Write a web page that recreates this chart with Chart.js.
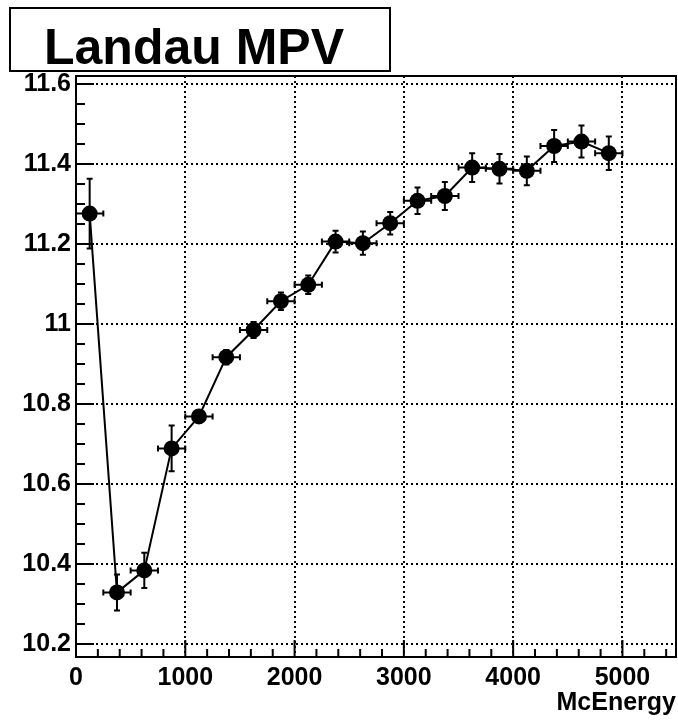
<!DOCTYPE html>
<html>
<head>
<meta charset="UTF-8">
<title>Landau MPV</title>
<script src="https://cdn.jsdelivr.net/npm/chart.js"></script>
<style>
    body{
        margin:0;
        padding:0;
        background:#fff;
        font-family:"Liberation Sans",Arial,Helvetica,sans-serif;
    }
    .wrap{
        position:relative;
        width:678px;
        height:721px;
    }
    canvas{ position:absolute; left:0; top:0; }
    /* title box in the upper left */
    .title-box{
        position:absolute;
        left:9px;
        top:7px;
        width:345px;
        height:48px;
        padding:13px 0 0 33px;
        border:2px solid #000;
        background:#fff;
        font-weight:700;
        font-size:50px;
        line-height:50px;
        white-space:nowrap;
    }
</style>
</head>
<body>
<div class="wrap">
    <canvas id="mpvChart" width="678" height="721"></canvas>
    <div class="title-box">Landau MPV</div>
</div>

<script>
// bin centres and half widths (McEnergy)
const energy    = [125, 375, 625, 875, 1125, 1375, 1625, 1875, 2125, 2375,
                   2625, 2875, 3125, 3375, 3625, 3875, 4125, 4375, 4625, 4875];
const energyErr = [125, 125, 125, 125, 125, 125, 125, 125, 125, 125,
                   125, 125, 125, 125, 125, 125, 125, 125, 125, 125];
// fitted Landau most probable value per bin
const mpv    = [11.276, 10.329, 10.384, 10.689, 10.769, 10.917, 10.985, 11.057, 11.098, 11.206,
                11.202, 11.252, 11.308, 11.320, 11.391, 11.388, 11.383, 11.445, 11.456, 11.427];
const mpvErr = [0.087, 0.045, 0.044, 0.057, 0.016, 0.018, 0.020, 0.022, 0.023, 0.027,
                0.029, 0.028, 0.033, 0.035, 0.036, 0.037, 0.036, 0.040, 0.040, 0.042];

const xTickValues = [0, 1000, 2000, 3000, 4000, 5000];
const yTickValues = [10.2, 10.4, 10.6, 10.8, 11, 11.2, 11.4, 11.6];

const FONT = '"Liberation Sans", Arial, Helvetica, sans-serif';

// error bars with small end caps
const errorBars = {
    id: 'errorBars',
    afterDatasetsDraw(chart){
        const {ctx, scales:{x, y}} = chart;
        const cap = 3;
        ctx.save();
        ctx.strokeStyle = '#000';
        ctx.lineWidth = 2;
        energy.forEach((e, i) => {
            const px = x.getPixelForValue(e);
            const py = y.getPixelForValue(mpv[i]);
            const x0 = x.getPixelForValue(e - energyErr[i]);
            const x1 = x.getPixelForValue(e + energyErr[i]);
            const y0 = y.getPixelForValue(mpv[i] - mpvErr[i]);
            const y1 = y.getPixelForValue(mpv[i] + mpvErr[i]);
            ctx.beginPath();
            ctx.moveTo(x0, py); ctx.lineTo(x1, py);
            ctx.moveTo(x0, py - cap); ctx.lineTo(x0, py + cap);
            ctx.moveTo(x1, py - cap); ctx.lineTo(x1, py + cap);
            ctx.moveTo(px, y0); ctx.lineTo(px, y1);
            ctx.moveTo(px - cap, y0); ctx.lineTo(px + cap, y0);
            ctx.moveTo(px - cap, y1); ctx.lineTo(px + cap, y1);
            ctx.stroke();
        });
        ctx.restore();
    }
};

// frame, inward ticks and the x axis title
const frame = {
    id: 'frame',
    afterDraw(chart){
        const {ctx, chartArea:a, scales:{x, y}} = chart;
        ctx.save();
        ctx.strokeStyle = '#000';
        ctx.lineWidth = 2;
        ctx.strokeRect(a.left, a.top, a.right - a.left, a.bottom - a.top);

        ctx.beginPath();
        for(let i = 0; i * 200 <= x.max; i++){
            const px = x.getPixelForValue(i * 200);
            const len = i % 5 === 0 ? 17 : 8;
            ctx.moveTo(px, a.bottom); ctx.lineTo(px, a.bottom - len);
        }
        for(let i = 0; i <= 28; i++){
            const py = y.getPixelForValue(10.2 + i * 0.05);
            const len = i % 4 === 0 ? 18 : 9;
            ctx.moveTo(a.left, py); ctx.lineTo(a.left + len, py);
        }
        ctx.stroke();

        ctx.fillStyle = '#000';
        ctx.font = 'bold 25px ' + FONT;
        ctx.textAlign = 'right';
        ctx.textBaseline = 'alphabetic';
        ctx.fillText('McEnergy', a.right, 710);
        ctx.restore();
    }
};

const ctx = document.getElementById('mpvChart').getContext('2d');
new Chart(ctx, {
    type: 'scatter',
    data: {
        datasets: [{
            data: energy.map((e, i) => ({x: e, y: mpv[i]})),
            showLine: true,
            borderColor: '#000',
            borderWidth: 2,
            backgroundColor: '#000',
            pointRadius: 8,
            pointHoverRadius: 8,
            pointBorderWidth: 0
        }]
    },
    options: {
        responsive: false,
        animation: false,
        devicePixelRatio: 1,
        layout: {
            autoPadding: false,
            padding: { top: 76, right: 2, left: 0, bottom: 0 }
        },
        plugins: {
            legend: { display: false },
            tooltip: { enabled: false }
        },
        scales: {
            x: {
                type: 'linear',
                min: 0,
                max: 5490,
                afterBuildTicks: s => { s.ticks = xTickValues.map(v => ({value: v})); },
                afterFit: s => { s.height = 64; },
                grid: { color: '#000', lineWidth: 2, drawTicks: false },
                border: { display: false, dash: [2, 3] },
                ticks: {
                    color: '#000',
                    padding: 6,
                    maxRotation: 0,
                    font: { family: FONT, size: 25, weight: 'bold' },
                    callback: v => String(v)
                }
            },
            y: {
                type: 'linear',
                min: 10.1675,
                max: 11.62,
                afterBuildTicks: s => { s.ticks = yTickValues.map(v => ({value: v})); },
                afterFit: s => { s.width = 76; },
                grid: { color: '#000', lineWidth: 2, drawTicks: false },
                border: { display: false, dash: [2, 3] },
                ticks: {
                    color: '#000',
                    padding: 5,
                    font: { family: FONT, size: 25, weight: 'bold' },
                    callback: v => String(Number(v.toFixed(1)))
                }
            }
        }
    },
    plugins: [errorBars, frame]
});
</script>
</body>
</html>
